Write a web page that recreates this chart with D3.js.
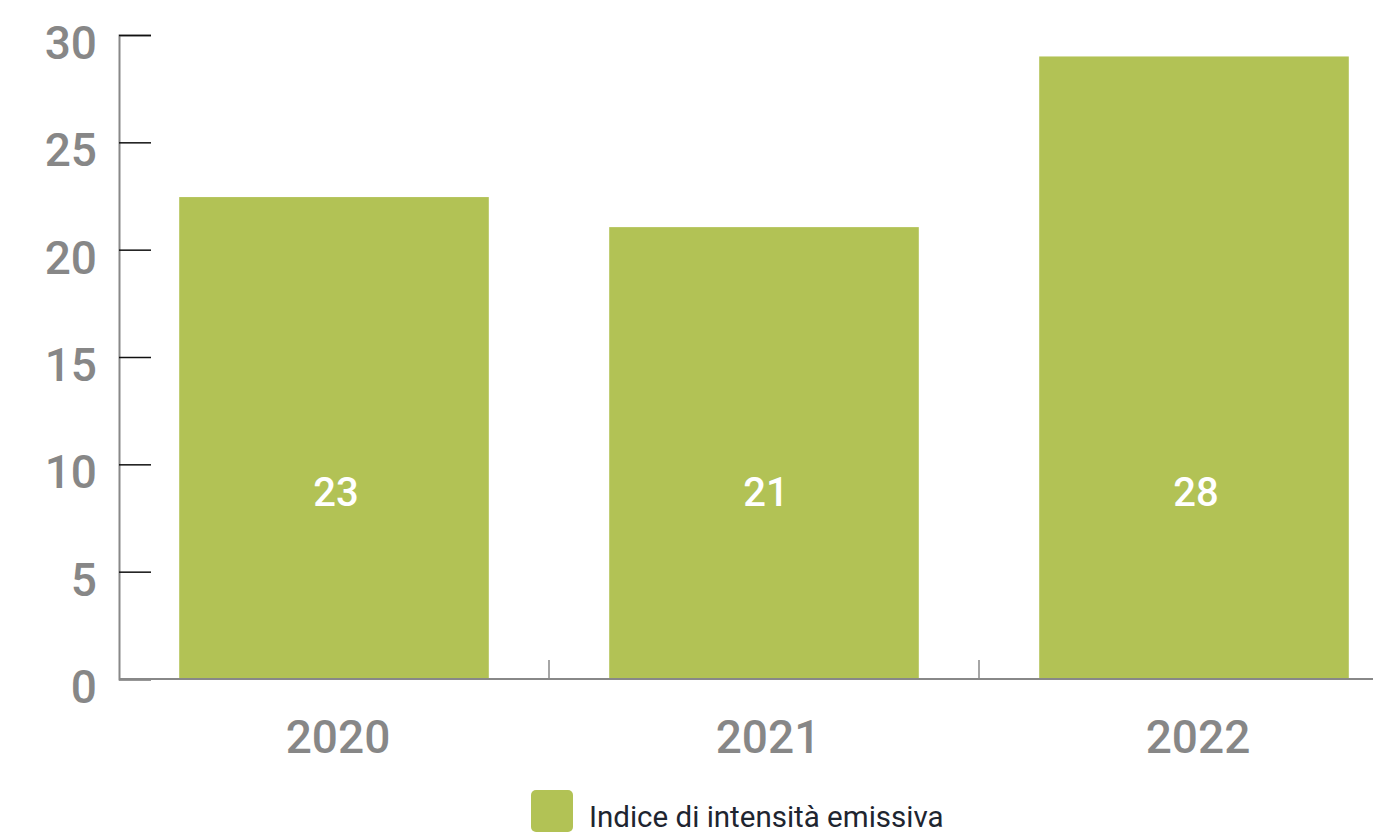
<!DOCTYPE html>
<html><head><meta charset="utf-8">
<script src="https://cdn.jsdelivr.net/npm/d3@7"></script>
<style>body{margin:0;background:#fff}svg{display:block}</style>
</head><body>
<script>
const categories = ["2020", "2021", "2022"];
const values = [22.45, 21.05, 29.0];
const valueLabels = ["23", "21", "28"];
const yTicks = [0, 5, 10, 15, 20, 25, 30];
const seriesName = "Indice di intensità emissiva";
const barColor = "#b2c255";

const W = 1373, H = 833;
const svg = d3.select("body").append("svg").attr("width", W).attr("height", H);
const x = d3.scaleBand().domain(categories).range([119, 1409]).paddingInner(0.28).paddingOuter(0.14);
const y = d3.scaleLinear().domain([0, 30]).range([679, 35]);

// bars
svg.selectAll("rect.bar").data(values).enter().append("rect")
  .attr("x", (d, i) => x(categories[i]))
  .attr("width", x.bandwidth())
  .attr("y", d => y(d))
  .attr("height", d => y(0) - y(d))
  .attr("fill", barColor);

// value labels
svg.selectAll("text.val").data(valueLabels).enter().append("text")
  .attr("x", (d, i) => x(categories[i]) + x.bandwidth() / 2 + 2)
  .attr("y", y(0) - 173)
  .attr("text-anchor", "middle")
  .attr("font-family", "Roboto, sans-serif").attr("font-weight", 500).attr("font-size", 40)
  .attr("fill", "#fff").text(d => d);

// y axis
const yAxis = d3.axisRight(y).tickValues(yTicks).tickSize(32).tickFormat("");
const gy = svg.append("g").attr("transform", "translate(119,0)").call(yAxis);
gy.select(".domain").attr("stroke", "#888").attr("stroke-width", 2);
gy.selectAll(".tick line").attr("stroke", "#111").attr("stroke-width", 1.5);
svg.selectAll("text.ytl").data(yTicks).enter().append("text")
  .attr("x", 97).attr("y", d => y(d) + 24)
  .attr("text-anchor", "end")
  .attr("font-family", "Roboto, sans-serif").attr("font-weight", 500).attr("font-size", 46)
  .attr("fill", "#878787").text(d => d);

// x axis
const sepX = [x.step() + 119, 2 * x.step() + 119];
svg.append("line").attr("x1", 119).attr("x2", W).attr("y1", 679).attr("y2", 679)
  .attr("stroke", "#888").attr("stroke-width", 2);
svg.selectAll("line.sep").data(sepX).enter().append("line")
  .attr("x1", d => d).attr("x2", d => d).attr("y1", 679).attr("y2", 660)
  .attr("stroke", "#888").attr("stroke-width", 1.5);
svg.selectAll("text.xtl").data(categories).enter().append("text")
  .attr("x", d => x(d) + x.bandwidth() / 2 + 4).attr("y", 753)
  .attr("text-anchor", "middle")
  .attr("font-family", "Roboto, sans-serif").attr("font-weight", 500).attr("font-size", 46)
  .attr("fill", "#878787").text(d => d);

// legend
svg.append("rect").attr("x", 531).attr("y", 790).attr("width", 42).attr("height", 42)
  .attr("rx", 5).attr("fill", barColor);
svg.append("text").attr("x", 589).attr("y", 827)
  .attr("font-family", "Roboto, sans-serif").attr("font-size", 29.5)
  .attr("fill", "#1e2530").text(seriesName);
</script>
</body></html>
